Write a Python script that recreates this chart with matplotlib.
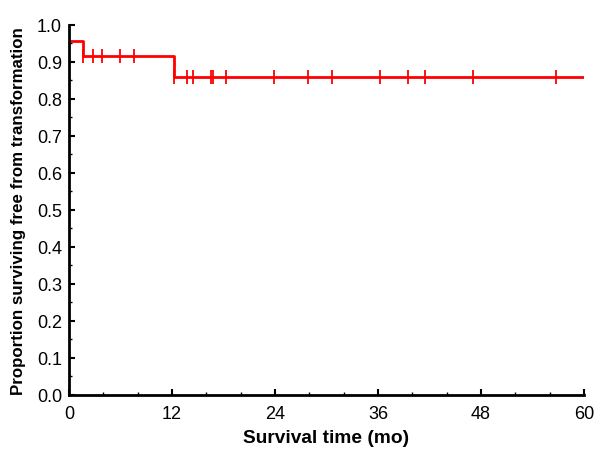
import matplotlib
matplotlib.use("Agg")
import matplotlib.pyplot as plt
import numpy as np
from matplotlib.ticker import MultipleLocator

plt.rcParams['font.family'] = ['Liberation Sans', 'DejaVu Sans']

# Kaplan-Meier step data
step_times = [0, 1.67, 12.2, 60]
step_surv = [0.957, 0.915, 0.858, 0.858]
censor_times = [1.67, 2.8, 3.9, 5.9, 7.6, 12.2, 13.7, 14.5, 16.5, 16.8, 18.3,
                23.9, 27.9, 30.6, 36.2, 39.5, 41.5, 47.1, 56.7]

xticks = [0, 12, 24, 36, 48, 60]
yticks = [0.0, 0.1, 0.2, 0.3, 0.4, 0.5, 0.6, 0.7, 0.8, 0.9, 1.0]

fig = plt.figure(figsize=(6.03, 4.56), dpi=100)
ax = fig.add_axes([0.1144, 0.1316, 0.854, 0.812])

ax.step(step_times, step_surv, where='post', color='#ff0000', lw=2.0)

def surv_at(t):
    s = step_surv[0]
    for tt, ss in zip(step_times, step_surv):
        if t >= tt:
            s = ss
    return s

ax.plot(censor_times, [surv_at(t) for t in censor_times], linestyle='none',
        marker='|', markersize=10, markeredgewidth=1.3, color='#ff0000')

ax.set_xlim(0, 60)
ax.set_ylim(0, 1.0)
ax.set_xticks(xticks)
ax.set_yticks(yticks)
ax.set_yticklabels([f"{v:.1f}" for v in yticks])
ax.xaxis.set_minor_locator(MultipleLocator(4))
ax.yaxis.set_minor_locator(MultipleLocator(0.05))

for s in ['top', 'right']:
    ax.spines[s].set_visible(False)
for s in ['left', 'bottom']:
    ax.spines[s].set_linewidth(2.0)

ax.tick_params(which='major', direction='in', length=4, width=1.5, labelsize=13)
ax.tick_params(axis='x', which='major', pad=7)
ax.tick_params(axis='y', which='major', pad=5)
ax.tick_params(which='minor', direction='in', length=2, width=1.0)

ax.set_xlabel('Survival time (mo)', fontsize=13.8, fontweight='bold', labelpad=5)
ax.set_ylabel('Proportion surviving free from transformation', fontsize=12.2,
              fontweight='bold', labelpad=8)

fig.savefig('out.png', dpi=100)
